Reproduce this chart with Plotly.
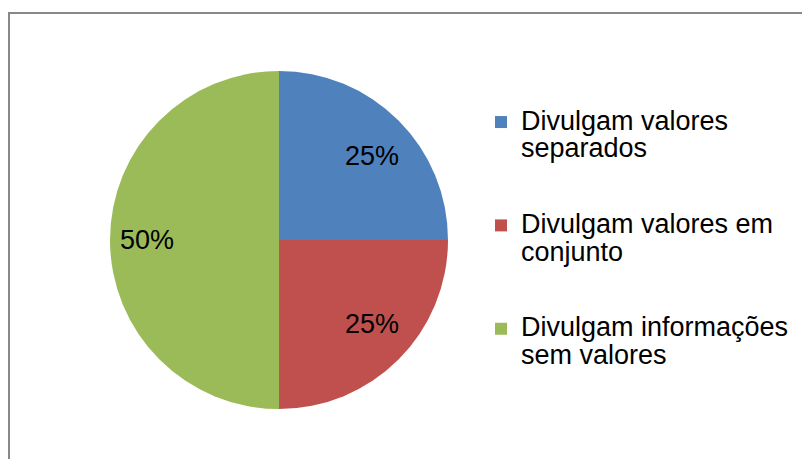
import math
import plotly.graph_objects as go

labels = ["Divulgam valores separados", "Divulgam valores em conjunto", "Divulgam informações sem valores"]
legend_lines = [["Divulgam valores", "separados"], ["Divulgam valores em", "conjunto"], ["Divulgam informações", "sem valores"]]
values = [25, 25, 50]
colors = ["#4F81BD", "#C0504D", "#9BBB59"]

W, H = 802, 459
cx, cy, r = 279, 240, 169
FONT = "Liberation Sans, Arial"
TXT = 27
LEG = 19.3


def legend_label(lines):
    first = f"<span style='font-size:{TXT}px'>{lines[0]}</span>"
    # second line nudged slightly lower to open the line spacing a little
    second = (f"<span style='font-size:13px'><sub>"
              f"<span style='font-size:{TXT}px'>{lines[1]}</span></sub></span>")
    return first + "<br>" + second + "<br> <br> "


legend_text = [legend_label(lines) for lines in legend_lines]

fig = go.Figure(go.Pie(
    labels=legend_text,
    values=values,
    sort=False,
    direction="clockwise",
    rotation=0,
    marker=dict(colors=colors, line=dict(width=0)),
    textinfo="none",
    domain=dict(x=[(cx - r) / W, (cx + r) / W], y=[(H - cy - r) / H, (H - cy + r) / H]),
    hoverinfo="skip",
))

# percentage labels placed along each slice's bisector, computed from the values
total = sum(values)
cum = 0
annotations = []
for v in values:
    mid = (cum + v / 2) / total * 2 * math.pi  # clockwise from 12 o'clock
    cum += v
    px = cx + 0.78 * r * math.sin(mid)
    py = cy - 0.70 * r * math.cos(mid)
    annotations.append(dict(x=px / W, y=(H - py) / H, xref="paper", yref="paper",
                            text=f"{round(v / total * 100)}%", showarrow=False,
                            font=dict(size=TXT, color="black", family=FONT),
                            xanchor="center", yanchor="middle"))

fig.update_layout(
    width=W, height=H,
    margin=dict(l=0, r=0, t=0, b=0),
    paper_bgcolor="white",
    font=dict(family=FONT, size=LEG, color="black"),
    legend=dict(x=481 / W, y=(H - 103) / H, xanchor="left", yanchor="top",
                valign="top", font=dict(size=LEG), itemclick=False),
    annotations=annotations,
    shapes=[dict(type="rect", xref="paper", yref="paper",
                 x0=9 / W, x1=1.02, y0=-0.05, y1=(H - 13) / H,
                 line=dict(color="#888888", width=2), fillcolor="rgba(0,0,0,0)")],
)

fig.write_html("out.html", config={"displayModeBar": False},
               post_script="document.body.style.margin='0px';")
